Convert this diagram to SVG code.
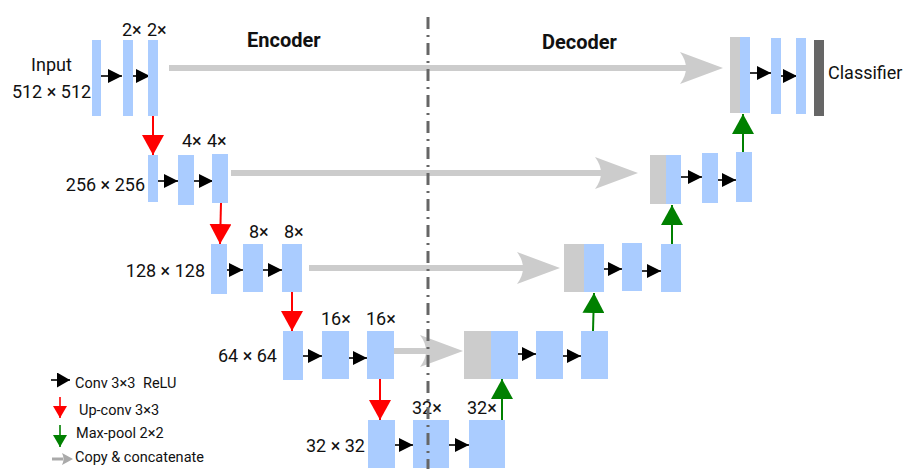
<svg xmlns="http://www.w3.org/2000/svg" width="905" height="469" viewBox="0 0 905 469">
<style>
.b{fill:#aaccff}
.g{fill:#cccccc}
.cl{fill:#666666}
.t{font-family:Roboto,"Liberation Sans",sans-serif;font-size:18px;fill:#111}
.h{font-family:Roboto,"Liberation Sans",sans-serif;font-size:20px;font-weight:bold;fill:#111}
.lg{font-family:Roboto,"Liberation Sans",sans-serif;font-size:14.5px;fill:#111}
.conv{stroke:#000;stroke-width:1.6;fill:none;marker-end:url(#mConv)}
.up{stroke:#ff0000;stroke-width:2;fill:none;marker-end:url(#mRed)}
.pool{stroke:#008000;stroke-width:2;fill:none;marker-end:url(#mGreen)}
.copy{stroke:#cccccc;stroke-width:6;fill:none;marker-end:url(#mCopy)}
</style>
<defs>
<marker id="mConv" markerUnits="userSpaceOnUse" markerWidth="14" markerHeight="14" refX="14" refY="7" orient="auto"><path d="M0,0 L14,7 L0,14 Z" fill="#000"/></marker>
<marker id="mRed" markerUnits="userSpaceOnUse" markerWidth="20" markerHeight="22" refX="20" refY="11" orient="auto"><path d="M0,0 L20,11 L0,22 Z" fill="#ff0000"/></marker>
<marker id="mGreen" markerUnits="userSpaceOnUse" markerWidth="20" markerHeight="22" refX="20" refY="11" orient="auto"><path d="M0,0 L20,11 L0,22 Z" fill="#008000"/></marker>
<marker id="mCopy" markerUnits="userSpaceOnUse" markerWidth="43" markerHeight="32" refX="10" refY="16" orient="auto"><path d="M0,0 L43,16 L0,32 Q12,16 0,0 Z" fill="#cccccc"/></marker>
<marker id="sConv" markerUnits="userSpaceOnUse" markerWidth="13" markerHeight="15" refX="13" refY="7.5" orient="auto"><path d="M0,0 L13,7.5 L0,15 Z" fill="#000"/></marker>
<marker id="sRed" markerUnits="userSpaceOnUse" markerWidth="12" markerHeight="14" refX="12" refY="7" orient="auto"><path d="M0,0 L12,7 L0,14 Z" fill="#ff0000"/></marker>
<marker id="sGreen" markerUnits="userSpaceOnUse" markerWidth="12" markerHeight="14" refX="12" refY="7" orient="auto"><path d="M0,0 L12,7 L0,14 Z" fill="#008000"/></marker>
<marker id="sCopy" markerUnits="userSpaceOnUse" markerWidth="11" markerHeight="12" refX="1" refY="6" orient="auto"><path d="M0,0 L11,6 L0,12 Q3,6 0,0 Z" fill="#aaaaaa"/></marker>
</defs>

<!-- titles -->
<text class="h" x="247" y="47">Encoder</text>
<text class="h" x="542" y="49">Decoder</text>

<!-- connectors -->
<g id="connectors">
  <!-- copy & concatenate -->
  <line class="copy" x1="169" y1="68" x2="690" y2="68"/>
  <line class="copy" x1="231" y1="173" x2="605" y2="173"/>
  <line class="copy" x1="309" y1="268" x2="527" y2="268"/>
  <line class="copy" x1="394" y1="351" x2="430" y2="351"/>
  <!-- conv encoder -->
  <line class="conv" x1="101" y1="76" x2="122" y2="76"/>
  <line class="conv" x1="133" y1="76" x2="150" y2="76"/>
  <line class="conv" x1="158" y1="181" x2="178" y2="181"/>
  <line class="conv" x1="194" y1="181" x2="213" y2="181"/>
  <line class="conv" x1="227" y1="270" x2="243" y2="270"/>
  <line class="conv" x1="263" y1="270" x2="282" y2="270"/>
  <line class="conv" x1="303" y1="356" x2="322" y2="356"/>
  <line class="conv" x1="349" y1="358" x2="367" y2="358"/>
  <line class="conv" x1="395" y1="445" x2="413" y2="445"/>
  <line class="conv" x1="449" y1="445" x2="469" y2="445"/>
  <!-- conv decoder -->
  <line class="conv" x1="518" y1="354" x2="536" y2="354"/>
  <line class="conv" x1="563" y1="356" x2="581" y2="356"/>
  <line class="conv" x1="604" y1="269" x2="622" y2="269"/>
  <line class="conv" x1="642" y1="271" x2="661" y2="271"/>
  <line class="conv" x1="681" y1="177" x2="702" y2="177"/>
  <line class="conv" x1="718" y1="180" x2="736" y2="180"/>
  <line class="conv" x1="750" y1="73" x2="771" y2="73"/>
  <line class="conv" x1="781" y1="76" x2="797" y2="76"/>
  <!-- down (red) -->
  <line class="up" x1="153" y1="116" x2="153" y2="155"/>
  <line class="up" x1="221" y1="203" x2="220" y2="244"/>
  <line class="up" x1="292" y1="292" x2="292" y2="331"/>
  <line class="up" x1="380" y1="379" x2="380" y2="420"/>
  <!-- up (green) -->
  <line class="pool" x1="502" y1="420" x2="502" y2="379"/>
  <line class="pool" x1="593" y1="331" x2="594" y2="293"/>
  <line class="pool" x1="672" y1="244" x2="672" y2="205"/>
  <line class="pool" x1="743" y1="152" x2="743" y2="114"/>
</g>

<!-- encoder level 1 -->
<g id="enc1">
  <rect class="b" x="92" y="40" width="9" height="76"/>
  <rect class="b" x="123" y="40" width="10" height="76"/>
  <rect class="b" x="148" y="40" width="10" height="76"/>
  <text class="t" x="122" y="36">2×</text>
  <text class="t" x="147" y="36">2×</text>
  <text class="t" x="51.5" y="71" text-anchor="middle">Input</text>
  <text class="t" x="51.5" y="98" text-anchor="middle">512 × 512</text>
</g>
<g id="enc2">
  <rect class="b" x="148" y="155" width="10" height="47"/>
  <rect class="b" x="178" y="155" width="16" height="50"/>
  <rect class="b" x="212" y="154" width="16" height="49"/>
  <text class="t" x="182" y="147">4×</text>
  <text class="t" x="207" y="147">4×</text>
  <text class="t" x="145" y="191" text-anchor="end">256 × 256</text>
</g>
<g id="enc3">
  <rect class="b" x="211" y="244" width="16" height="50"/>
  <rect class="b" x="243" y="244" width="20" height="48"/>
  <rect class="b" x="282" y="244" width="20" height="48"/>
  <text class="t" x="249" y="238">8×</text>
  <text class="t" x="284" y="238">8×</text>
  <text class="t" x="205" y="277" text-anchor="end">128 × 128</text>
</g>
<g id="enc4">
  <rect class="b" x="283" y="331" width="20" height="49"/>
  <rect class="b" x="322" y="331" width="27" height="48"/>
  <rect class="b" x="367" y="331" width="27" height="48"/>
  <text class="t" x="321" y="325">16×</text>
  <text class="t" x="366" y="325">16×</text>
  <text class="t" x="277" y="362" text-anchor="end">64 × 64</text>
</g>
<g id="bottleneck">
  <rect class="b" x="368" y="420" width="27" height="48"/>
  <rect class="b" x="413" y="420" width="36" height="48"/>
  <rect class="b" x="469" y="420" width="36" height="48"/>
  <text class="t" x="412" y="414">32×</text>
  <text class="t" x="467" y="414">32×</text>
  <text class="t" x="365" y="452" text-anchor="end">32 × 32</text>
</g>
<g id="dec4">
  <rect class="g" x="464" y="331" width="27" height="48"/>
  <rect class="b" x="491" y="331" width="27" height="48"/>
  <rect class="b" x="536" y="331" width="27" height="48"/>
  <rect class="b" x="581" y="331" width="27" height="48"/>
</g>
<g id="dec3">
  <rect class="g" x="564" y="244" width="20" height="48"/>
  <rect class="b" x="584" y="244" width="20" height="48"/>
  <rect class="b" x="622" y="243" width="20" height="48"/>
  <rect class="b" x="661" y="244" width="20" height="48"/>
</g>
<g id="dec2">
  <rect class="g" x="650" y="155" width="16" height="49"/>
  <rect class="b" x="666" y="155" width="15" height="49"/>
  <rect class="b" x="702" y="153" width="16" height="50"/>
  <rect class="b" x="736" y="152" width="16" height="50"/>
</g>
<g id="dec1">
  <rect class="g" x="730" y="37" width="10" height="76"/>
  <rect class="b" x="740" y="37" width="10" height="76"/>
  <rect class="b" x="771" y="38" width="10" height="76"/>
  <rect class="b" x="796" y="38" width="10" height="76"/>
</g>
<g id="classifier">
  <rect class="cl" x="814" y="40" width="10" height="76"/>
  <text class="t" x="828" y="79">Classifier</text>
</g>

<!-- legend -->
<g id="legend">
  <line x1="51" y1="380" x2="70" y2="380" stroke="#000" stroke-width="1.6" marker-end="url(#sConv)"/>
  <text class="lg" x="75" y="388">Conv 3×3<tspan x="143">ReLU</tspan></text>
  <line x1="60" y1="397" x2="60" y2="418" stroke="#ff0000" stroke-width="1.6" marker-end="url(#sRed)"/>
  <text class="lg" x="79" y="415">Up-conv 3×3</text>
  <line x1="60" y1="425" x2="60" y2="447" stroke="#008000" stroke-width="1.6" marker-end="url(#sGreen)"/>
  <text class="lg" x="76" y="438">Max-pool 2×2</text>
  <line x1="52" y1="459" x2="63" y2="459" stroke="#aaaaaa" stroke-width="3" marker-end="url(#sCopy)"/>
  <text class="lg" x="75" y="462">Copy &amp; concatenate</text>
</g>

<!-- divider -->
<line id="divider" x1="428" y1="17" x2="428" y2="469" stroke="#666666" stroke-width="3" stroke-dasharray="12 6 2 6"/>
</svg>
